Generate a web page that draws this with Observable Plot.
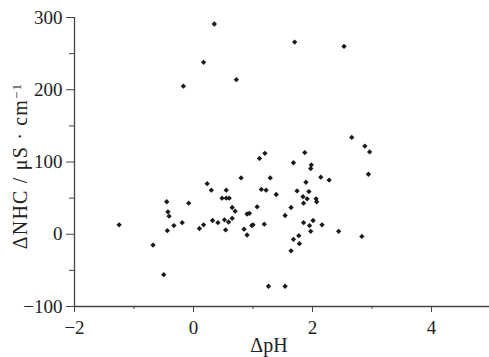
<!DOCTYPE html>
<html>
<head>
<meta charset="utf-8">
<script src="https://cdn.jsdelivr.net/npm/d3@7"></script>
<script src="https://cdn.jsdelivr.net/npm/@observablehq/plot@0.6"></script>
<style>
  html, body { margin: 0; padding: 0; background: #fff; }
  #chart svg { display: block; }
</style>
</head>
<body>
<div id="chart"></div>
<script>
// ΔpH values
const dpH = [
  -1.25, -0.68, -0.50, -0.45, -0.43, -0.41, -0.44, -0.33, -0.19, -0.08,
  0.10, 0.17, 0.23, 0.30, 0.32, 0.41, 0.48, 0.55, 0.60, 0.55,
  0.52, 0.54, 0.59, 0.65, 0.65, 0.70, 0.80, 0.85, 0.90, 0.94,
  0.90, 0.98, 1.00, 1.07, 1.11, 1.20, 1.14, 1.22, 1.19, 1.29,
  1.26, 1.39, 1.54, 1.54, 1.64, 1.64, 1.68, 1.68, 1.74, 1.77,
  1.78, 1.84, 1.85, 1.85, 1.87, 1.89, 1.91, 1.94, 1.95, 1.97,
  1.98, 1.97, 2.01, 2.06, 2.07, 2.14, 2.16, 2.28, 2.44, 2.66,
  2.83, 2.88, 2.94, 2.96, 0.35, 0.17, -0.17, 0.72, 1.70, 2.53
];
// ΔNHC values (μS·cm⁻¹)
const dNHC = [
  13, -15, -56, 45, 31, 25, 5, 12, 16, 43,
  8, 13, 70, 61, 19, 16, 50, 50, 50, 61,
  20, 6, 17, 37, 22, 32, 78, 7, 28, 29,
  -1, 12, 13, 38, 105, 112, 62, 61, 14, 78,
  -72, 55, 26, -72, 37, -23, 99, -7, 60, -2,
  -13, 52, 43, 16, 113, 72, 49, 59, 12, 4,
  96, 91, 19, 49, 45, 79, 13, 75, 4, 134,
  -3, 122, 83, 114, 291, 238, 205, 214, 266, 260
];
const xTicks = [-2, 0, 2, 4];
const xMinorTicks = [-1, 1, 3];
const yTicks = [-100, 0, 100, 200, 300];
const yMinorTicks = [-50, 50, 150, 250];
const xLabel = "ΔpH";
const yLabelMain = "ΔNHC / μS · cm";
const yLabelSup = "−1";

const data = dpH.map((x, i) => ({x, y: dNHC[i]}));
const fmt = d => (d < 0 ? "\u2212" + Math.abs(d) : String(d));

const ink = "#222";
const axisInk = "#444";

const chart = Plot.plot({
  width: 489,
  height: 357,
  marginLeft: 74,
  marginRight: 0,
  marginTop: 17,
  marginBottom: 51,
  style: {fontFamily: "'Liberation Serif', 'Times New Roman', serif", fontSize: "19px", background: "#fff", color: ink},
  x: {domain: [-2, 4.975]},
  y: {domain: [-100, 300]},
  marks: [
    Plot.axisX({ticks: xTicks, tickSize: 6, tickPadding: 8, tickFormat: fmt, label: null, stroke: axisInk, fill: ink}),
    Plot.axisX({ticks: xMinorTicks, tickSize: 3, tickFormat: () => "", label: null, stroke: axisInk}),
    Plot.axisY({ticks: yTicks, tickSize: 8, tickPadding: 4, tickFormat: fmt, label: null, stroke: axisInk, fill: ink}),
    Plot.axisY({ticks: yMinorTicks, tickSize: 5, tickFormat: () => "", label: null, stroke: axisInk}),
    Plot.ruleY([-100], {stroke: axisInk, strokeWidth: 1.3}),
    Plot.ruleX([-2], {stroke: axisInk, strokeWidth: 1.3}),
    Plot.dot(data, {x: "x", y: "y", symbol: "diamond2", r: 2.4, fill: "#1a1a1a", stroke: "none"})
  ]
});

const svg = d3.select(chart);
// Y-axis title
const yt = svg.append("text")
  .attr("transform", "translate(27,166) rotate(-90)")
  .attr("text-anchor", "middle")
  .attr("font-family", "'Liberation Serif', 'Times New Roman', serif")
  .attr("font-size", 20)
  .attr("letter-spacing", "1.2px")
  .attr("fill", ink);
yt.append("tspan").text(yLabelMain);
yt.append("tspan").attr("dy", "-0.45em").attr("font-size", 13).text(yLabelSup);
// X-axis title
svg.append("text")
  .attr("x", 269)
  .attr("y", 352)
  .attr("text-anchor", "middle")
  .attr("font-family", "'Liberation Serif', 'Times New Roman', serif")
  .attr("font-size", 20)
  .attr("fill", ink)
  .text(xLabel);

document.getElementById("chart").appendChild(chart);
</script>
</body>
</html>
